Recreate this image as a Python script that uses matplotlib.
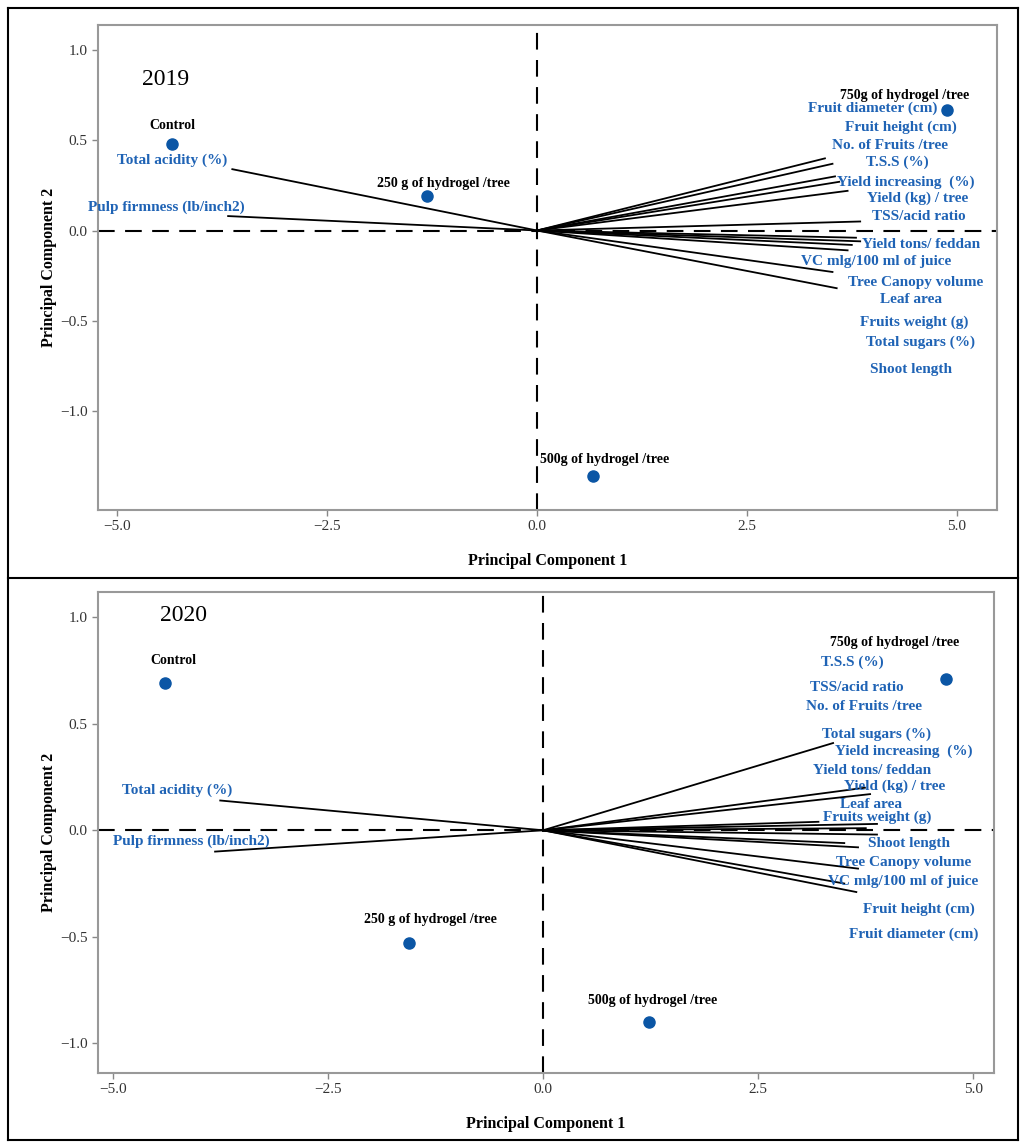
import matplotlib
matplotlib.use("Agg")
import matplotlib.pyplot as plt
from matplotlib.lines import Line2D

plt.rcParams['font.family'] = ['Liberation Serif', 'DejaVu Serif']

BLUE = '#1f63b5'
DOT = '#0b56a5'

treatments = ['Control', '250 g of hydrogel /tree', '500g of hydrogel /tree', '750g of hydrogel /tree']

# 2019 scores
pc1_2019 = [-4.35, -1.31, 0.67, 4.88]
pc2_2019 = [0.48, 0.19, -1.36, 0.67]

# 2019 loading vectors (end points)
vec_x_2019 = [-3.63, -3.68, 3.43, 3.52, 3.60, 3.70, 3.55, 3.85, 3.80, 3.85, 3.75, 3.70, 3.52, 3.57]
vec_y_2019 = [0.34, 0.08, 0.40, 0.37, 0.27, 0.22, 0.30, 0.05, -0.04, -0.06, -0.08, -0.11, -0.23, -0.32]

var_names_2019 = ['Total acidity (%)', 'Pulp firmness (lb/inch2)', 'Fruit diameter (cm)', 'Fruit height (cm)',
                  'No. of Fruits /tree', 'T.S.S (%)', 'Yield increasing  (%)', 'Yield (kg) / tree',
                  'TSS/acid ratio', 'Yield tons/ feddan', 'VC mlg/100 ml of juice', 'Tree Canopy volume',
                  'Leaf area', 'Fruits weight (g)', 'Total sugars (%)', 'Shoot length']
var_lab_x_2019 = [-4.35, -4.42, 4.00, 4.33, 4.20, 4.29, 4.39, 4.54, 4.55, 4.57, 4.04, 4.51, 4.45, 4.49, 4.57, 4.46]
var_lab_y_2019 = [0.39, 0.13, 0.68, 0.57, 0.47, 0.38, 0.27, 0.18, 0.08, -0.08, -0.17, -0.29, -0.38, -0.51, -0.62, -0.77]
trt_lab_x_2019 = [-4.35, -1.11, 0.81, 4.38]
trt_lab_y_2019 = [0.58, 0.26, -1.27, 0.75]

# 2020 scores
pc1_2020 = [-4.39, -1.56, 1.23, 4.68]
pc2_2020 = [0.69, -0.53, -0.90, 0.71]

vec_x_2020 = [-3.75, -3.81, 3.37, 3.74, 3.80, 3.88, 3.20, 3.75, 3.88, 3.66, 3.50, 3.66, 3.50, 3.64]
vec_y_2020 = [0.14, -0.10, 0.41, 0.20, 0.17, 0.03, 0.04, 0.01, -0.02, -0.08, -0.06, -0.18, -0.25, -0.29]

var_names_2020 = ['Total acidity (%)', 'Pulp firmness (lb/inch2)', 'T.S.S (%)', 'TSS/acid ratio',
                  'No. of Fruits /tree', 'Total sugars (%)', 'Yield increasing  (%)', 'Yield tons/ feddan',
                  'Yield (kg) / tree', 'Leaf area', 'Fruits weight (g)', 'Shoot length',
                  'Tree Canopy volume', 'VC mlg/100 ml of juice', 'Fruit height (cm)', 'Fruit diameter (cm)']
var_lab_x_2020 = [-4.25, -4.09, 3.59, 3.65, 3.73, 3.87, 4.19, 3.82, 4.08, 3.81, 3.88, 4.25, 4.19, 4.18, 4.37, 4.31]
var_lab_y_2020 = [0.19, -0.05, 0.79, 0.67, 0.58, 0.45, 0.37, 0.28, 0.205, 0.12, 0.06, -0.06, -0.15, -0.24, -0.37, -0.49]
trt_lab_x_2020 = [-4.30, -1.31, 1.27, 4.09]
trt_lab_y_2020 = [0.80, -0.42, -0.80, 0.88]


def draw_panel(ax, year, year_xy, pc1, pc2, vx, vy, names, lx, ly, tx, ty, xlim, ylim, yticks):
  ax.set_xlim(*xlim)
  ax.set_ylim(*ylim)
  ax.axhline(0, color='black', lw=1.5, ls=(0, (8, 5)), zorder=1)
  ax.axvline(0, color='black', lw=1.5, ls=(0, (8, 5)), zorder=1)
  for x, y in zip(vx, vy):
    ax.plot([0, x], [0, y], color='black', lw=1.3, zorder=2)
  ax.plot(pc1, pc2, 'o', color=DOT, ms=8, zorder=4)
  for name, x, y in zip(names, lx, ly):
    ax.text(x, y, name, color=BLUE, fontsize=11, fontweight='bold', ha='center', va='center', zorder=5)
  for name, x, y in zip(treatments, tx, ty):
    ax.text(x, y, name, color='black', fontsize=10, fontweight='bold', ha='center', va='center', zorder=5)
  ax.text(year_xy[0], year_xy[1], year, fontsize=17, ha='center', va='center')
  ax.set_xticks([-5.0, -2.5, 0.0, 2.5, 5.0])
  ax.set_xticklabels(['\u22125.0', '\u22122.5', '0.0', '2.5', '5.0'])
  ax.set_yticks(yticks)
  ax.set_yticklabels([('\u2212' if t < 0 else '') + f'{abs(t):.1f}' for t in yticks])
  ax.tick_params(labelsize=11, colors='#333333', length=4, width=1, color='#888888')
  for s in ax.spines.values():
    s.set_color('#999999')
    s.set_linewidth(1.5)
  ax.set_xlabel('Principal Component 1', fontsize=11.5, fontweight='bold', labelpad=14)
  ax.set_ylabel('Principal Component 2', fontsize=11.5, fontweight='bold', labelpad=2)


fig = plt.figure(figsize=(10.21, 11.44), dpi=100)
ax1 = fig.add_axes([0.096, 0.5542, 0.8805, 0.424])
ax2 = fig.add_axes([0.096, 0.0621, 0.8776, 0.4205])

draw_panel(ax1, '2019', (-4.43, 0.84), pc1_2019, pc2_2019, vec_x_2019, vec_y_2019,
           var_names_2019, var_lab_x_2019, var_lab_y_2019, trt_lab_x_2019, trt_lab_y_2019,
           (-5.23, 5.48), (-1.55, 1.14), [1.0, 0.5, 0.0, -0.5, -1.0])
draw_panel(ax2, '2020', (-4.18, 1.01), pc1_2020, pc2_2020, vec_x_2020, vec_y_2020,
           var_names_2020, var_lab_x_2020, var_lab_y_2020, trt_lab_x_2020, trt_lab_y_2020,
           (-5.17, 5.24), (-1.14, 1.12), [1.0, 0.5, 0.0, -0.5, -1.0])

# outer black frame of the two panels
W, H = 1021, 1144
for (x0, y0, x1, y1) in [(8, 8, 1018, 8), (8, 578, 1018, 578), (8, 1140, 1018, 1140),
                         (8, 8, 8, 1140), (1018, 8, 1018, 1140)]:
  fig.add_artist(Line2D([x0 / W, x1 / W], [1 - y0 / H, 1 - y1 / H], color='black', lw=1.5,
                        transform=fig.transFigure))

plt.savefig('out.png', dpi=100)
